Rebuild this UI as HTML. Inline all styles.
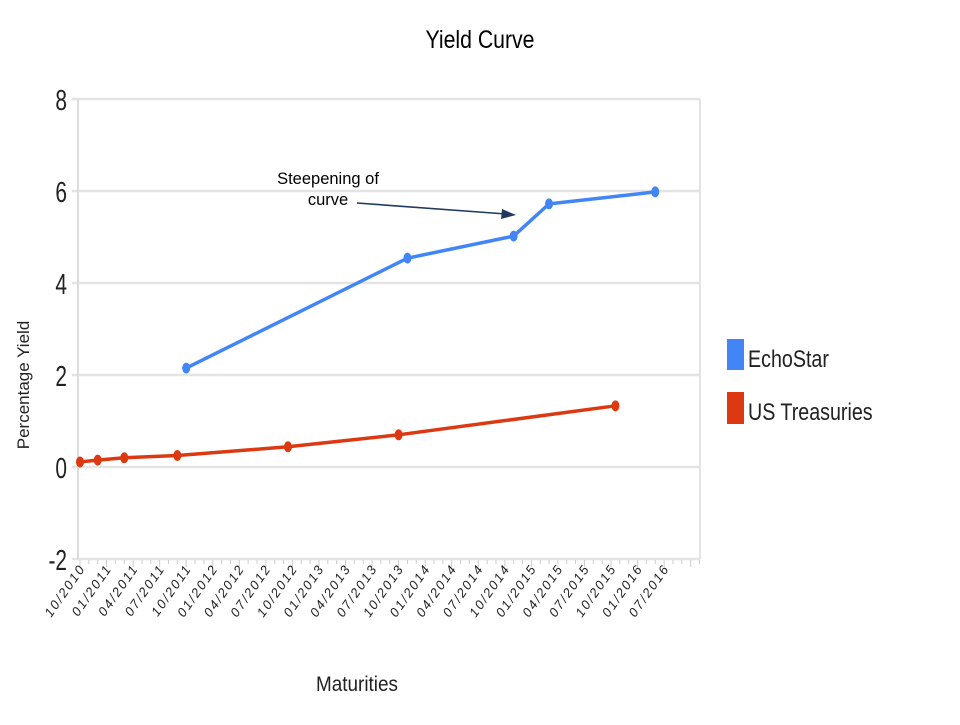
<!DOCTYPE html>
<html><head><meta charset="utf-8"><style>
body{margin:0;background:#fff;}
svg text{font-family:"Liberation Sans",sans-serif;}
</style></head><body>
<svg id="c" width="960" height="720" xmlns="http://www.w3.org/2000/svg">
<text x="480" y="48" text-anchor="middle" font-size="25" transform="translate(480,0) scale(0.85,1) translate(-480,0)">Yield Curve</text>
<g id="grid"></g>
<g id="yt"></g>
<g id="xt"></g>
<g id="series"></g>
<text transform="translate(29,385) rotate(-90)" text-anchor="middle" font-size="17" fill="#222">Percentage Yield</text>
<text x="357" y="691" text-anchor="middle" font-size="21" fill="#222" transform="translate(357,0) scale(0.9,1) translate(-357,0)">Maturities</text>
<g>
<text x="328" y="184" text-anchor="middle" font-size="16.5">Steepening of</text>
<text x="328" y="205" text-anchor="middle" font-size="16.5">curve</text>
<line x1="357" y1="203" x2="506" y2="214" stroke="#1f3a5f" stroke-width="1.6"/>
<polygon points="516,215 502,209 501,219" fill="#1f3a5f"/>
</g>
<g>
<rect x="727" y="339" width="17" height="31" fill="#4285f4"/>
<text x="748" y="367" font-size="24" fill="#222" transform="translate(748,0) scale(0.82,1) translate(-748,0)">EchoStar</text>
<rect x="727" y="392" width="17" height="32" fill="#dc3912"/>
<text x="748" y="420" font-size="24" fill="#222" transform="translate(748,0) scale(0.82,1) translate(-748,0)">US Treasuries</text>
</g>
</svg>
<script>
const yTicks=[8,6,4,2,0,-2];
const xLabels=["10/2010","01/2011","04/2011","07/2011","10/2011","01/2012","04/2012","07/2012","10/2012","01/2013","04/2013","07/2013","10/2013","01/2014","04/2014","07/2014","10/2014","01/2015","04/2015","07/2015","10/2015","01/2016","07/2016"];
const echoMonths=[12,37,49,53,65];
const echoValues=[2.15,4.54,5.02,5.72,5.98];
const tsyMonths=[0,2,5,11,23.5,36,60.5];
const tsyValues=[0.11,0.15,0.2,0.25,0.44,0.7,1.33];
const NS="http://www.w3.org/2000/svg";
const L=79,R=700,T=99,B=559,X0=80,MPX=8.85;
const ymin=-2,ymax=8;
const ys=v=>B-(v-ymin)/(ymax-ymin)*(B-T);
const xs=m=>X0+m*MPX;
function mk(tag,attrs,parent){const e=document.createElementNS(NS,tag);for(const k in attrs)e.setAttribute(k,attrs[k]);document.getElementById(parent).appendChild(e);return e;}
yTicks.forEach(v=>{
 const g=mk('line',{x1:72,x2:R,y1:ys(v),y2:ys(v),stroke:'#e4e4e4','stroke-width':2.5},'grid');
 
 
 const t=mk('text',{x:67,y:ys(v)+11,'text-anchor':'end','font-size':29,fill:'#222',transform:`translate(67,0) scale(0.72,1) translate(-67,0)`},'yt');
 t.textContent=v;
 
 
});
let a=mk('line',{x1:L-1,x2:L-1,y1:T,y2:B,stroke:'#ddd','stroke-width':2},'grid');


a=mk('line',{x1:R,x2:R,y1:T,y2:B,stroke:'#e4e4e4','stroke-width':2},'grid');


for(let m=0;m<=70;m++){
 const tk=mk('line',{x1:xs(m),x2:xs(m),y1:B+1,y2:B+(m%3===0?8:5),stroke:'#ccc','stroke-width':1},'xt');
 
 
}
xLabels.forEach((s,i)=>{
 const x=xs(i*3)+6;
 const t=mk('text',{x:x,y:568,'text-anchor':'end','font-size':13,'font-style':'italic',fill:'#222',transform:`rotate(-55 ${x} 568)`,'letter-spacing':'2'},'xt');
 t.textContent=s;
 
 
});
function series(ms,vs,color,name){
 const p=mk('polyline',{points:ms.map((m,i)=>xs(m)+','+ys(vs[i])).join(' '),fill:'none',stroke:color,'stroke-width':3.5,'stroke-linejoin':'round'},'series');
 
 
 ms.forEach((m,i)=>{
  const c=mk('ellipse',{cx:xs(m),cy:ys(vs[i]),rx:4,ry:5.5,fill:color},'series');
  
  
 });
}
series(tsyMonths,tsyValues,'#dc3912','us-treasuries');
series(echoMonths,echoValues,'#4285f4','echostar');
</script>
</body></html>
